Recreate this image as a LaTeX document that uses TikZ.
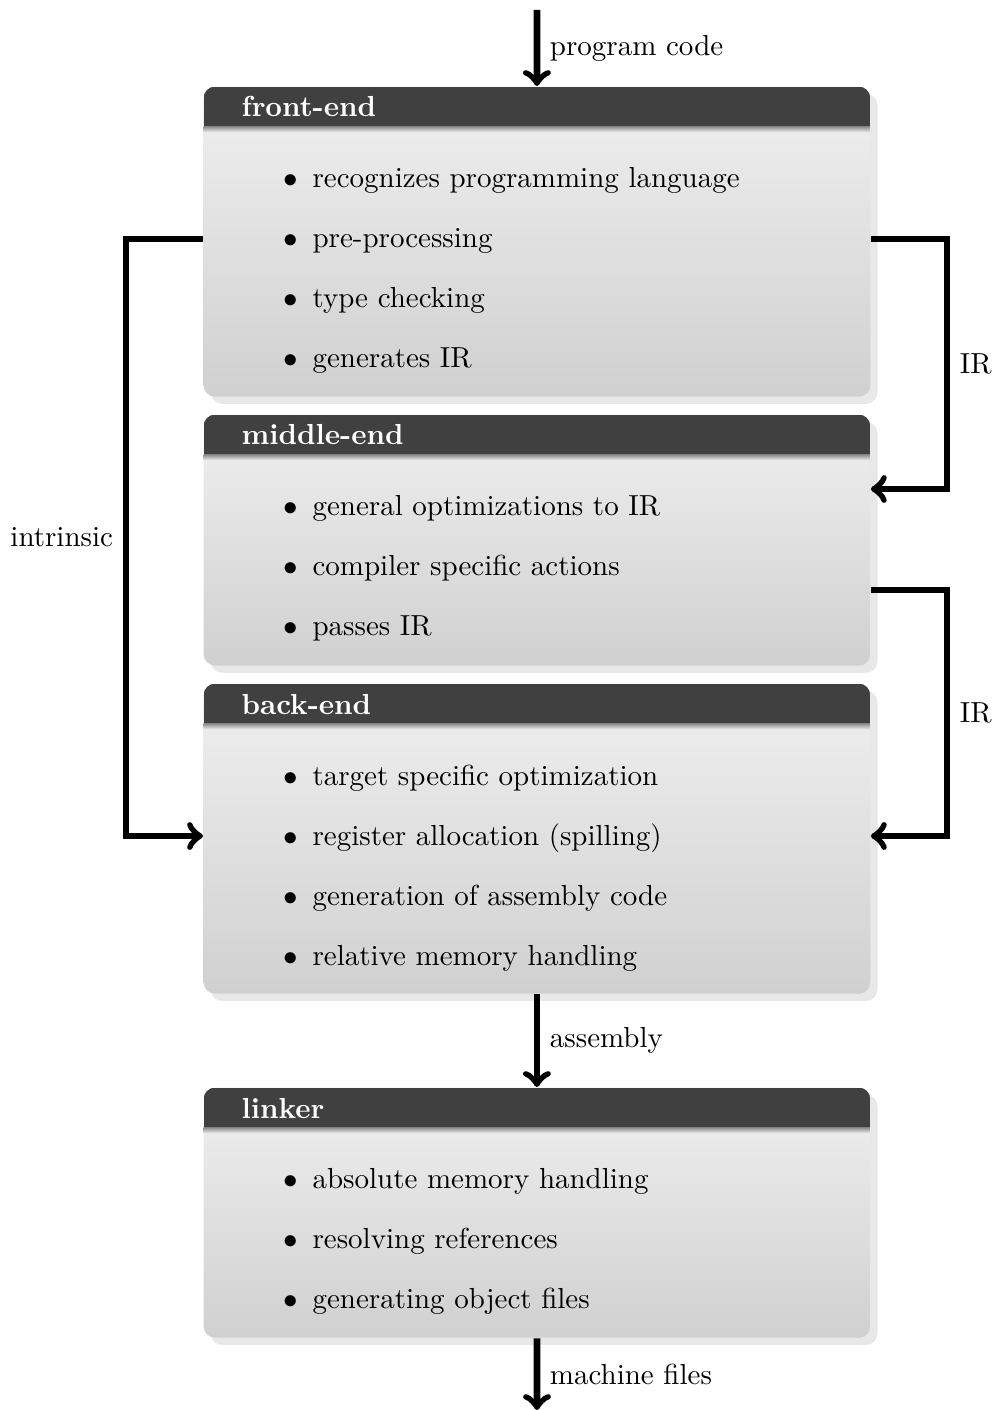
\documentclass[tikz,border=0pt]{standalone}
\usepackage{tikz}
\usetikzlibrary{arrows,shadows,calc}

\definecolor{bargray}{HTML}{404040}
\definecolor{bodytop}{HTML}{F0F0F0}
\definecolor{bodybottom}{HTML}{D0D0D0}

\newcommand{\itm}{$\bullet$\hspace{5pt}}

\tikzset{
  stage/.style={anchor=north west, inner sep=0pt, minimum width=230pt,
    rounded corners=4pt, top color=bodytop, bottom color=bodybottom,
    drop shadow={shadow xshift=2.5pt, shadow yshift=-2.5pt, opacity=0.18},
    path picture={
      \fill[bargray, sharp corners] (path picture bounding box.north west) rectangle ([yshift=-13.8pt]path picture bounding box.north east);
      \shade[sharp corners, top color=bargray!60, bottom color=bodytop] ([yshift=-13.8pt]path picture bounding box.north west) rectangle ([yshift=-15.8pt]path picture bounding box.north east);
    }},
  stagetitle/.style={anchor=base west, inner sep=0pt, text=white, font=\bfseries},
  items/.style={anchor=north west, inner sep=0pt, align=left},
  flow/.style={->, line width=2.3pt},
}

\begin{document}
\begin{tikzpicture}[x=0.345pt, y=-0.345pt]
\useasboundingbox (0,0) rectangle (997,1410);

% the four stages
\node[stage, minimum height=107pt] (FE) at (203,86) {};
\node[stage, minimum height=86.6pt] (ME) at (203,414) {};
\node[stage, minimum height=107pt] (BE) at (203,683) {};
\node[stage, minimum height=86.3pt] (LK) at (203,1087) {};

\node[stagetitle] (FEt) at ($(FE.north west)+(38,31)$) {front-end};
\node[stagetitle] (MEt) at ($(ME.north west)+(38,31)$) {middle-end};
\node[stagetitle] (BEt) at ($(BE.north west)+(38,31)$) {back-end};
\node[stagetitle] (LKt) at ($(LK.north west)+(38,31)$) {linker};

\node[items] (FEi) at ($(FE.north west)+(80,81)$) {\itm recognizes programming language\\[8.7pt] \itm pre-processing\\[8.7pt] \itm type checking\\[8.7pt] \itm generates IR};
\node[items] (MEi) at ($(ME.north west)+(80,81)$) {\itm general optimizations to IR\\[8.7pt] \itm compiler specific actions\\[8.7pt] \itm passes IR};
\node[items] (BEi) at ($(BE.north west)+(80,81)$) {\itm target specific optimization\\[8.7pt] \itm register allocation (spilling)\\[8.7pt] \itm generation of assembly code\\[8.7pt] \itm relative memory handling};
\node[items] (LKi) at ($(LK.north west)+(80,81)$) {\itm absolute memory handling\\[8.7pt] \itm resolving references\\[8.7pt] \itm generating object files};

% flow between stages
\coordinate (src) at (537,10);
\coordinate (dst) at (537,1410);
\draw[flow] (src) -- (FE.north) node[midway,right] {program code};
\draw[flow] (BE.south) -- (LK.north) node[midway,right] {assembly};
\draw[flow] (LK.south) -- (dst) node[midway,right] {machine files};
\draw[flow] ($(FE.north west)+(0,153)$) -- ++(-77,0) |- ($(BE.north west)+(0,153)$) node[pos=0.25,left] {intrinsic};
\draw[flow] ($(FE.north east)+(0,153)$) -- ++(76,0) |- ($(ME.north east)+(0,75)$) node[pos=0.25,right] {IR};
\draw[flow] ($(ME.north east)+(0,176)$) -- ++(76,0) |- ($(BE.north east)+(0,153)$) node[pos=0.25,right] {IR};
\end{tikzpicture}
\end{document}
